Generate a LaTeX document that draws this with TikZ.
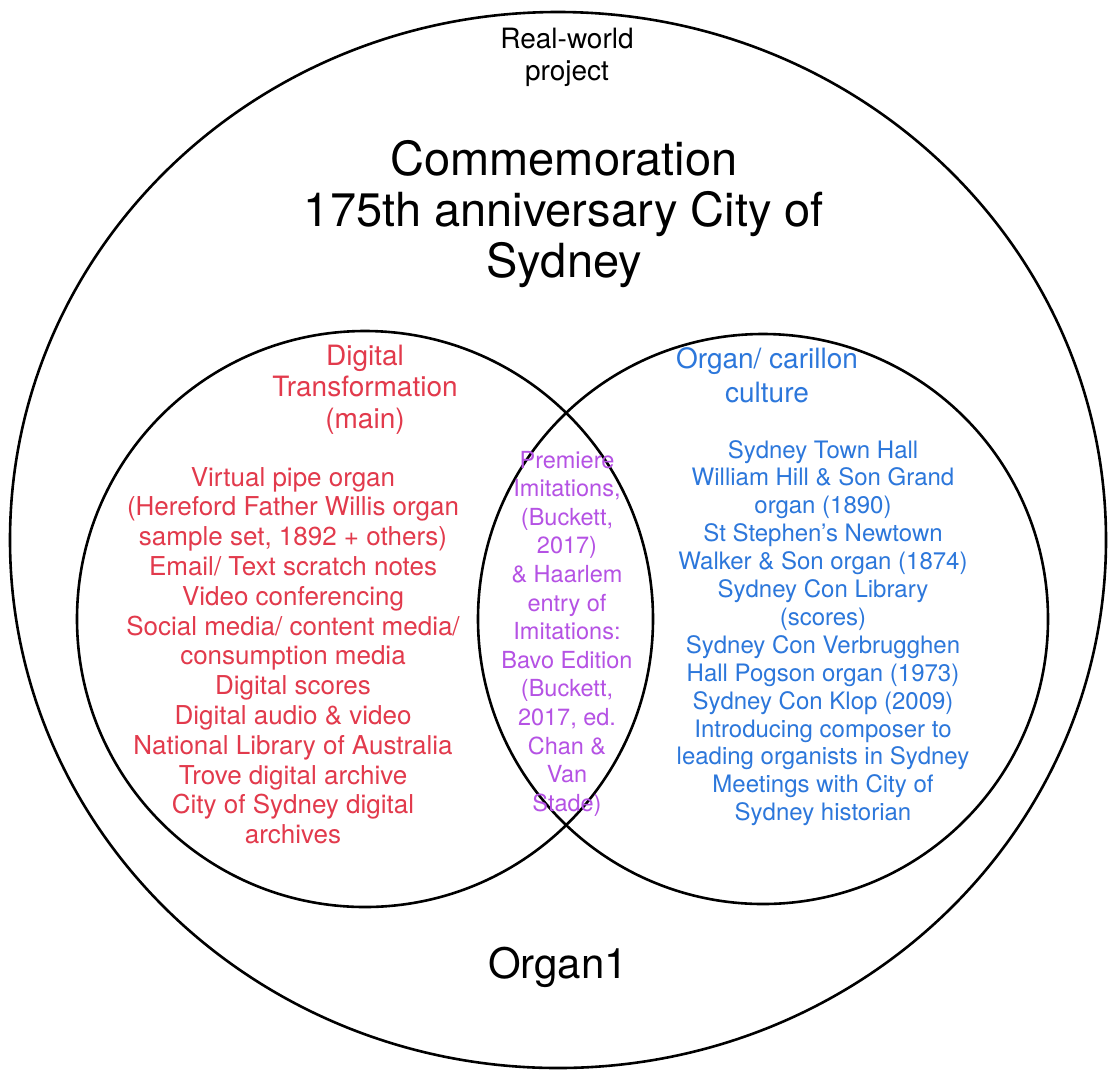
\documentclass[tikz,border=0pt]{standalone}
\usepackage{fontspec}
\setmainfont{TeX Gyre Heros}
\definecolor{dtred}{RGB}{226,58,76}
\definecolor{ocblue}{RGB}{44,119,219}
\definecolor{lenspurple}{RGB}{181,82,228}
\newcommand{\fs}[2]{\fontsize{#1}{#2}\selectfont}
\newcommand{\topline}{\rule{0pt}{1em}}
\begin{document}
\begin{tikzpicture}[x=1pt,y=-1pt,
  ring/.style={draw=black,line width=2.6pt},
  txt/.style={anchor=north,inner sep=0pt,outer sep=0pt,align=center}]
\useasboundingbox[fill=white] (0,0) rectangle (1110,1069);
\draw[ring] (558,540) ellipse [x radius=548, y radius=528];
\draw[ring] (365,619) circle [radius=288];
\draw[ring] (763,619) circle [radius=285];

\node[txt,font=\fs{28}{32}] (realworld) at (567,20) {\topline Real-world\\project};
\node[txt,font=\fs{47}{51}] (title) at (564,128) {\topline Commemoration\\175th anniversary City of\\Sydney};
\node[txt,font=\fs{28}{31.5},text=dtred] (dthead) at (365,337) {\topline Digital\\Transformation\\(main)};
\node[txt,font=\fs{28}{34},text=ocblue] (ochead) at (767,340) {\topline Organ/ carillon\\culture};
\node[txt,font=\fs{26}{29.8},text=dtred] (dtlist) at (293,460) {\topline Virtual pipe organ\\(Hereford Father Willis organ\\sample set, 1892 + others)\\Email/ Text scratch notes\\Video conferencing\\Social media/ content media/\\consumption media\\Digital scores\\Digital audio \& video\\National Library of Australia\\Trove digital archive\\City of Sydney digital\\archives};
\node[txt,font=\fs{24}{27.9},text=ocblue] (oclist) at (823,434) {\topline Sydney Town Hall\\William Hill \& Son Grand\\organ (1890)\\St Stephen’s Newtown\\Walker \& Son organ (1874)\\Sydney Con Library\\(scores)\\Sydney Con Verbrugghen\\Hall Pogson organ (1973)\\Sydney Con Klop (2009)\\Introducing composer to\\leading organists in Sydney\\Meetings with City of\\Sydney historian};
\node[txt,font=\fs{23.5}{28.6},text=lenspurple] (lens) at (567,444.5) {\topline Premiere\\Imitations,\\(Buckett,\\2017)\\\& Haarlem\\entry of\\Imitations:\\Bavo Edition\\(Buckett,\\2017, ed.\\Chan \&\\Van\\Stade)};
\node[txt,font=\fs{42}{46}] (organ) at (558,936) {\topline Organ1};
\end{tikzpicture}
\end{document}
